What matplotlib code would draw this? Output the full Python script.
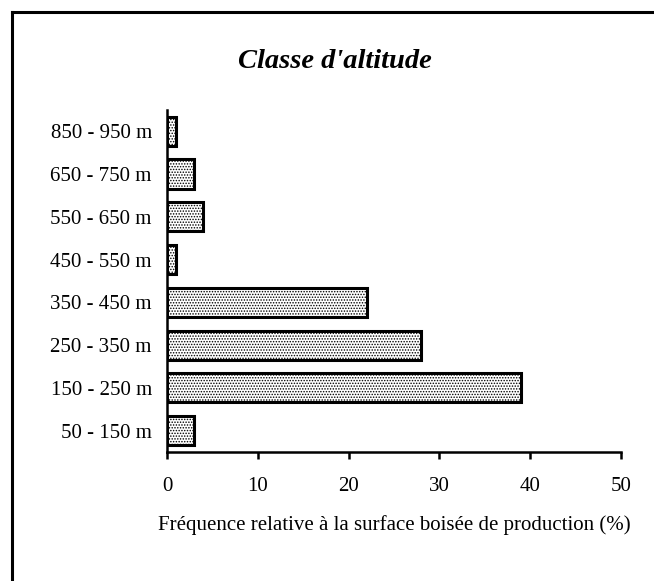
import matplotlib.pyplot as plt
from matplotlib.lines import Line2D

plt.rcParams['font.family'] = ['Liberation Serif', 'DejaVu Serif']
plt.rcParams['hatch.linewidth'] = 0.7
plt.rcParams['hatch.color'] = '#444444'

classes = ["50 - 150 m", "150 - 250 m", "250 - 350 m", "350 - 450 m",
           "450 - 550 m", "550 - 650 m", "650 - 750 m", "850 - 950 m"]
freq = [3, 39, 28, 22, 1, 4, 3, 1]
xticks = [0, 10, 20, 30, 40, 50]

fig = plt.figure(figsize=(6.54, 5.81), dpi=100)
ax = fig.add_axes([0.2554, 0.222, 0.6941, 0.589])

ax.barh(range(len(classes)), freq, height=0.68, color='white',
        edgecolor='black', linewidth=2.2, hatch='......')

ax.set_xlim(0, 50)
ax.set_ylim(-0.5, len(classes) - 0.5)
ax.set_xticks(xticks)
ax.set_yticks(range(len(classes)))
ax.set_yticklabels(classes)
ax.tick_params(axis='y', length=0, labelsize=15, pad=11)
ax.tick_params(axis='x', direction='out', length=5, width=1.8, labelsize=15, pad=13)
for s in ['top', 'right']:
    ax.spines[s].set_visible(False)
for s in ['left', 'bottom']:
    ax.spines[s].set_linewidth(1.8)

ax.set_xlabel("Fréquence relative à la surface boisée de production (%)",
              fontsize=15, labelpad=14)
fig.text(0.512, 0.895, "Classe d'altitude", ha='center', va='center',
         fontsize=20.5, fontweight='bold', fontstyle='italic')

# cadre (coupé à droite et en bas)
fig.add_artist(Line2D([0.0184, 0.0184], [0.0, 0.9793], color='black', linewidth=2.2))
fig.add_artist(Line2D([0.0184, 1.0], [0.9793, 0.9793], color='black', linewidth=2.2))

fig.savefig('out.png', dpi=100)
